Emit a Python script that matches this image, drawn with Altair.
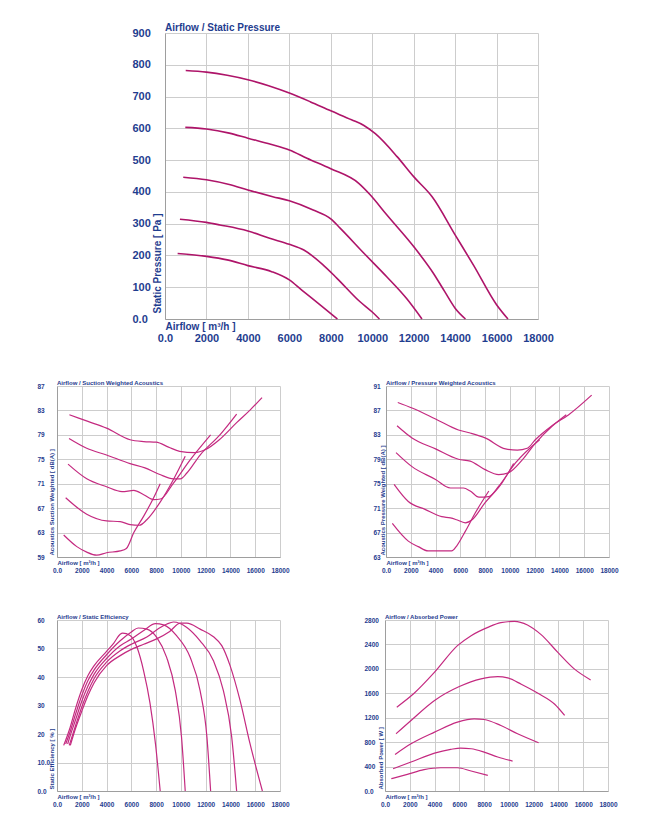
import altair as alt
import pandas as pd

# ---------------------------------------------------------------------------
# Fan performance curves: one list of (airflow m³/h, value) pairs per speed
# step, S1 = highest speed ... S5 = lowest speed.
# ---------------------------------------------------------------------------

# Static pressure [Pa]
pressure_s1 = [(1000, 782), (2000, 777), (3000, 767), (4000, 753), (5000, 734), (6000, 711),
               (7000, 684), (8000, 655), (9000, 627), (9600, 609), (10150, 583), (11200, 511),
               (12000, 448), (12900, 384), (14000, 265), (14900, 168), (16000, 45), (16550, 0)]
pressure_s2 = [(980, 603), (2000, 598), (3100, 585), (4000, 569), (5100, 550), (6000, 532),
               (6850, 506), (8000, 473), (9350, 427), (9900, 391), (10700, 328), (12000, 228),
               (12950, 144), (13500, 86), (14000, 34), (14500, 0)]
pressure_s3 = [(880, 446), (2000, 438), (3100, 423), (4000, 406), (5200, 385), (6000, 372),
               (7150, 343), (8000, 315), (8450, 286), (9600, 207), (10700, 133), (11650, 65),
               (12400, 0)]
pressure_s4 = [(720, 314), (2000, 304), (2650, 296), (4000, 277), (5050, 254), (6000, 235),
               (6700, 217), (7600, 172), (8300, 128), (9400, 55), (10000, 22), (10350, 0)]
pressure_s5 = [(610, 206), (2000, 197), (3000, 186), (4000, 168), (5150, 149), (6000, 123),
               (6600, 91), (7500, 44), (8320, 0)]

# Suction weighted acoustics [dB(A)]
suction_s1 = [(1000, 82.3), (2500, 81.2), (4000, 80.1), (5900, 78.2), (7000, 77.9), (8000, 77.8),
              (9000, 77.0), (9900, 76.3), (11100, 76.1), (12000, 76.6), (13100, 78.2),
              (14500, 81.0), (15600, 83.1), (16550, 85.1)]
suction_s2 = [(970, 78.4), (2400, 76.8), (4000, 75.7), (5900, 74.3), (7100, 73.6), (8300, 72.5),
              (9400, 71.8), (9950, 71.8), (10500, 72.8), (11550, 75.7), (13150, 79.0), (14500, 82.4)]
suction_s3 = [(890, 74.2), (2400, 71.8), (4000, 70.5), (5250, 69.7), (6200, 69.9), (7000, 69.2),
              (7800, 68.4), (8350, 68.5), (9400, 71.1), (10750, 74.9), (12400, 79.0)]
suction_s4 = [(700, 68.7), (2400, 66.0), (4000, 64.9), (5100, 64.8), (5900, 64.3), (6650, 64.2),
              (7250, 65.1), (8300, 67.9), (9400, 71.7), (10350, 75.5)]
suction_s5 = [(540, 62.6), (1600, 60.7), (2400, 59.8), (3200, 59.3), (4000, 59.7), (5100, 60.0),
              (5600, 60.4), (6200, 63.0), (7000, 65.7), (7800, 68.7), (8330, 71.0)]

# Pressure weighted acoustics [dB(A)]
pressure_db_s1 = [(950, 88.3), (2100, 87.4), (4000, 85.6), (5850, 83.8), (6800, 83.3), (8000, 82.5),
                  (9650, 80.7), (10600, 80.5), (11400, 80.8), (12050, 82.2), (13400, 84.5),
                  (14750, 86.3), (16600, 89.5)]
pressure_db_s2 = [(890, 84.5), (2100, 82.5), (4000, 80.7), (5850, 79.0), (6800, 78.7), (8000, 77.3),
                  (9100, 76.5), (9900, 76.8), (11000, 78.9), (12050, 81.6), (13400, 84.4), (14550, 86.3)]
pressure_db_s3 = [(810, 80.1), (2100, 77.8), (4000, 75.7), (5200, 74.3), (6250, 74.3), (6800, 73.8),
                  (7500, 72.8), (8300, 72.9), (9100, 74.6), (10450, 78.4), (12400, 82.2)]
pressure_db_s4 = [(650, 74.9), (1800, 72.1), (3150, 70.8), (4500, 69.6), (5200, 69.4), (5700, 69.1),
                  (6400, 68.6), (6950, 69.1), (8000, 71.9), (9350, 75.1), (10300, 78.3)]
pressure_db_s5 = [(510, 68.5), (1800, 65.6), (2600, 64.7), (3400, 64.0), (4000, 64.0), (4800, 64.0),
                  (5300, 64.0), (5700, 64.8), (6400, 67.2), (7200, 70.2), (8300, 73.8)]

# Static efficiency [%]
efficiency_s1 = [(1075, 16.0), (1500, 22.0), (2000, 28.0), (2500, 33.5), (3000, 38.0), (4000, 44.0),
                 (5100, 47.5), (6000, 49.7), (7000, 51.5), (8000, 53.3), (9100, 56.0), (9950, 58.9),
                 (10480, 58.9), (11550, 56.8), (12630, 54.1), (13300, 51.0), (13970, 44.0),
                 (14780, 31.7), (15580, 16.6), (16580, 0.0)]
efficiency_s2 = [(990, 16.0), (1500, 23.0), (2000, 29.5), (2500, 35.0), (3000, 39.5), (4000, 45.2),
                 (5100, 49.2), (6000, 51.5), (7250, 54.0), (8200, 57.0), (8870, 58.6), (9400, 59.3),
                 (10480, 57.4), (11550, 52.7), (12630, 45.7), (13430, 35.2), (14100, 19.0), (14500, 0.0)]
efficiency_s3 = [(860, 16.5), (1000, 18.5), (1500, 25.0), (2000, 31.5), (2500, 36.8), (3000, 41.0),
                 (4000, 46.5), (5100, 51.0), (6000, 53.3), (7000, 56.3), (7950, 58.7), (8600, 58.3),
                 (9650, 54.5), (10750, 46.9), (11550, 35.2), (12100, 19.0), (12400, 0.0)]
efficiency_s4 = [(700, 16.5), (1000, 20.0), (1500, 27.0), (2000, 33.5), (2500, 38.8), (3000, 42.5),
                 (4000, 47.8), (5100, 52.7), (6000, 55.8), (6550, 57.2), (7250, 56.8), (8050, 53.9),
                 (8850, 46.9), (9550, 35.2), (10050, 19.0), (10350, 0.0)]
efficiency_s5 = [(540, 16.0), (1000, 21.5), (1500, 29.0), (2000, 35.5), (2500, 40.5), (3000, 44.0),
                 (4000, 49.0), (4600, 52.0), (5100, 55.0), (5300, 55.4), (5900, 54.6), (6450, 50.5),
                 (7000, 42.0), (7500, 31.0), (7950, 16.5), (8330, 0.0)]

# Absorbed power [W]
power_s1 = [(950, 1373), (2350, 1600), (4000, 1945), (5850, 2380), (6950, 2544), (8300, 2680),
            (9350, 2756), (10450, 2778), (11500, 2718), (12600, 2560), (13950, 2270), (15300, 1995),
            (16600, 1819)]
power_s2 = [(890, 937), (2100, 1155), (4000, 1482), (6000, 1710), (7750, 1836), (9100, 1874),
            (9900, 1852), (11000, 1748), (12350, 1600), (13700, 1420), (14500, 1237)]
power_s3 = [(810, 599), (2100, 773), (4000, 964), (5850, 1128), (7200, 1182), (8000, 1171),
            (9350, 1073), (10700, 937), (12400, 790)]
power_s4 = [(650, 365), (2100, 474), (4000, 621), (5300, 681), (6100, 703), (6950, 692),
            (8000, 637), (9100, 556), (10300, 490)]
power_s5 = [(510, 202), (1800, 272), (3150, 349), (4500, 381), (5850, 381), (6950, 327), (8300, 256)]

# Axis tick values
flow_ticks = list(range(0, 18001, 2000))
pressure_ticks = list(range(0, 901, 100))
suction_ticks = list(range(59, 88, 4))
pressure_db_ticks = list(range(63, 92, 4))
efficiency_ticks = list(range(0, 61, 10))
power_ticks = list(range(0, 2801, 400))

# ---------------------------------------------------------------------------
FONT = "Liberation Sans"
TEXT = "#1f3d8f"
GRID = "#cdcdcd"
DOMAIN = "#9e9e9e"
LINE_MAIN = "#ae1469"
LINE_SMALL = "#c42a80"


def frame(curves, field):
    rows = []
    for i, pts in enumerate(curves, start=1):
        for f, v in pts:
            rows.append({"speed": f"S{i}", "flow": f, field: v})
    return pd.DataFrame(rows)


def panel(curves, field, title, y_title, y_ticks, width, height, big,
          y_label_pad, y_title_x=-3,
          y_label_expr="datum.value == 0 ? '0.0' : datum.label"):
    label_size = 11 if big else 6.5
    title_size = 10 if big else 6
    x_axis = alt.Axis(
        values=flow_ticks, format="d",
        labelExpr="datum.value == 0 ? '0.0' : datum.label",
        labelFlush=False, labelOverlap=False,
        labelFont=FONT, labelFontSize=label_size, labelFontWeight="bold", labelColor=TEXT,
        labelPadding=13 if big else 10, ticks=False, tickSize=0,
        grid=True, gridColor=GRID, gridWidth=1, domainColor=DOMAIN, domainWidth=1,
        title="Airflow [ m³/h ]", titleFont=FONT, titleFontSize=title_size,
        titleFontWeight="bold", titleColor=TEXT,
        titleX=0, titleY=2, titleAlign="left", titleBaseline="top",
    )
    y_axis = alt.Axis(
        values=y_ticks, format="d", labelExpr=y_label_expr,
        labelOverlap=False, labelAlign="left", labelBaseline="middle",
        labelFont=FONT, labelFontSize=label_size, labelFontWeight="bold", labelColor=TEXT,
        labelPadding=y_label_pad, ticks=False, tickSize=0,
        grid=True, gridColor=GRID, gridWidth=1, domainColor=DOMAIN, domainWidth=1,
        title=y_title, titleFont=FONT, titleFontSize=title_size,
        titleFontWeight="bold", titleColor=TEXT,
        titleAngle=270, titleX=y_title_x, titleY=height - (6 if big else 2),
        titleAlign="left", titleBaseline="bottom",
    )
    return alt.Chart(frame(curves, field)).mark_line(
        color=LINE_MAIN if big else LINE_SMALL,
        strokeWidth=1.6 if big else 1.2,
        interpolate="monotone",
    ).encode(
        x=alt.X("flow:Q", scale=alt.Scale(domain=[0, 18000], nice=False, zero=False), axis=x_axis),
        y=alt.Y(f"{field}:Q", scale=alt.Scale(domain=[y_ticks[0], y_ticks[-1]], nice=False, zero=False),
                axis=y_axis),
        detail="speed:N",
    ).properties(
        width=width, height=height,
        title=alt.TitleParams(title, anchor="start", frame="group",
                              offset=-6 if big else -3, font=FONT,
                              fontSize=title_size, fontWeight="bold", color=TEXT),
    )


pressure_chart = panel(
    [pressure_s1, pressure_s2, pressure_s3, pressure_s4, pressure_s5], "pa",
    "Airflow / Static Pressure", "Static Pressure [ Pa ]", pressure_ticks, 373, 286, True, 33)

suction_chart = panel(
    [suction_s1, suction_s2, suction_s3, suction_s4, suction_s5], "suction_db",
    "Airflow / Suction Weighted Acoustics", "Acoustics Suction Weighted [ dB(A) ]",
    suction_ticks, 223, 171, False, 20)

pressure_db_chart = panel(
    [pressure_db_s1, pressure_db_s2, pressure_db_s3, pressure_db_s4, pressure_db_s5], "pressure_db",
    "Airflow / Pressure Weighted Acoustics", "Acoustics Pressure Weighted [ dB(A) ]",
    pressure_db_ticks, 223, 171, False, 13, y_title_x=-1)

efficiency_chart = panel(
    [efficiency_s1, efficiency_s2, efficiency_s3, efficiency_s4, efficiency_s5], "eff",
    "Airflow / Static Efficiency", "Static Efficiency [ % ]",
    efficiency_ticks, 223, 171, False, 20,
    y_label_expr="datum.value == 0 ? '0.0' : datum.value == 10 ? '10.0' : datum.label")

power_chart = panel(
    [power_s1, power_s2, power_s3, power_s4, power_s5], "watt",
    "Airflow / Absorbed Power", "Absorbed Power [ W ]",
    power_ticks, 223, 171, False, 21, y_title_x=-2)

# empty block that indents the large chart
indent = alt.Chart(pd.DataFrame({"v": [0]})).mark_point(opacity=0).encode(
    x=alt.X("v:Q", axis=None), y=alt.Y("v:Q", axis=None)
).properties(width=75, height=1)

top_row = alt.hconcat(indent, pressure_chart, spacing=0).resolve_scale(x="independent", y="independent")
acoustic_row = alt.hconcat(suction_chart, pressure_db_chart, spacing=83).resolve_scale(
    x="independent", y="independent")
power_row = alt.hconcat(efficiency_chart, power_chart, spacing=74).resolve_scale(
    x="independent", y="independent")
lower = alt.vconcat(acoustic_row, power_row, spacing=40).resolve_scale(x="independent", y="independent")

chart = alt.vconcat(top_row, lower, spacing=37).resolve_scale(
    x="independent", y="independent"
).properties(
    padding={"left": 37, "top": 23, "right": 5, "bottom": 5},
    background="white",
).configure_view(stroke=None)

chart.save("out.html", embed_options={"renderer": "svg", "actions": False})
